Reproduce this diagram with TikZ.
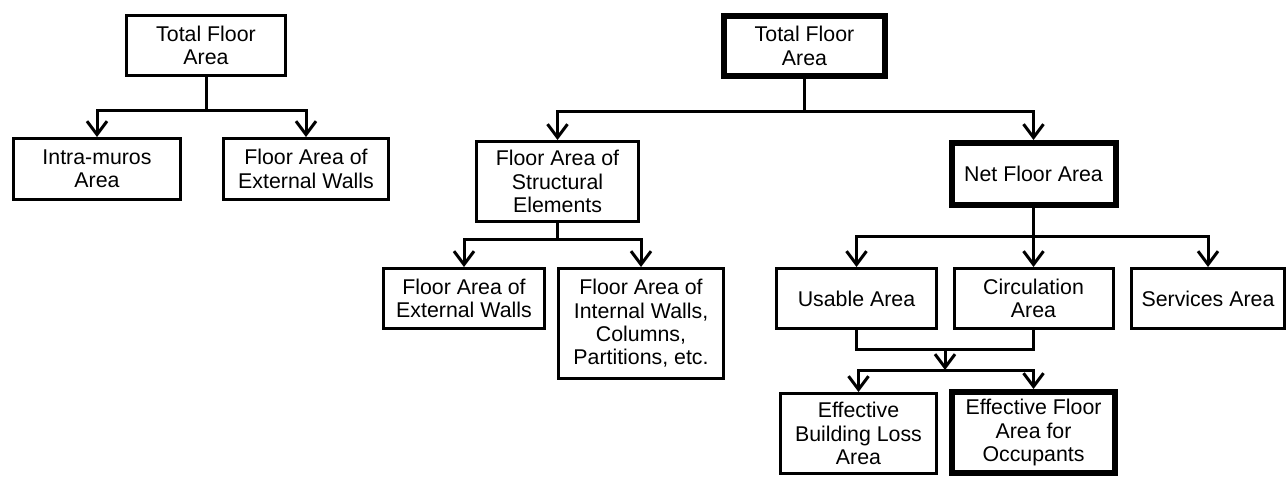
\documentclass[tikz,border=0pt]{standalone}
\usepackage{fontspec}
\setmainfont{Liberation Sans}
\usetikzlibrary{arrows.meta}

\begin{document}
\begin{tikzpicture}[x=0.75pt,y=0.75pt,yscale=-1,xscale=1,
  box/.style={draw, line width=2.25pt, inner sep=0pt, align=center, font=\fontsize{16}{17.5}\selectfont},
  heavy/.style={box, line width=4.5pt},
  arr/.style={-{Straight Barb[length=10pt,width=15pt]}},
  line width=2.25pt]
\useasboundingbox (0,0) rectangle (1288,476); %set diagram size 1288 x 476

%Shape: Rectangle (left tree)
\node[box, minimum width=119.25pt, minimum height=45pt] (tfaL) at (206,45.5) {Total Floor\\Area};
\node[box, minimum width=125.25pt, minimum height=45.75pt] (imA) at (97,169) {Intra-muros\\Area};
\node[box, minimum width=123.75pt, minimum height=45.75pt] (extL) at (306,169) {Floor Area of\\External Walls};

%Shape: Rectangle (right tree)
\node[heavy, minimum width=120.75pt, minimum height=45pt] (tfaR) at (804.5,46) {Total Floor\\Area};
\node[box, minimum width=121.5pt, minimum height=60pt] (fase) at (557.5,181.5) {Floor Area of\\Structural\\Elements};
\node[heavy, minimum width=123pt, minimum height=46.5pt] (nfa) at (1033.5,174) {Net Floor Area};
\node[box, minimum width=120.75pt, minimum height=45pt] (extR) at (464,298.5) {Floor Area of\\External Walls};
\node[box, minimum width=123.75pt, minimum height=82.5pt] (intW) at (641,323.5) {Floor Area of\\Internal Walls,\\Columns,\\Partitions, etc.};
\node[box, minimum width=120pt, minimum height=45pt] (usa) at (856.5,298.5) {Usable Area};
\node[box, minimum width=119.25pt, minimum height=45pt] (circ) at (1033.5,298.5) {Circulation\\Area};
\node[box, minimum width=114.75pt, minimum height=45pt] (serv) at (1208,298.5) {Services Area};
\node[box, minimum width=117pt, minimum height=60pt] (ebla) at (858.5,433.5) {Effective\\Building Loss\\Area};
\node[heavy, minimum width=122.25pt, minimum height=60.75pt] (efao) at (1033.5,432.5) {Effective Floor\\Area for\\Occupants};

%Junctions
\coordinate (jL) at (206,110);
\coordinate (jR) at (804.5,111);
\coordinate (jS) at (557.5,239);
\coordinate (jN) at (1033.5,236);
\coordinate (jU) at (945,349);
\coordinate (jE) at (945,370);

%Straight Lines
\draw (tfaL) -- (jL);
\draw[arr] (jL) -| (imA);
\draw[arr] (jL) -| (extL);

\draw (tfaR) -- (jR);
\draw[arr] (jR) -| (fase);
\draw[arr] (jR) -| (nfa);

\draw (fase) -- (jS);
\draw[arr] (jS) -| (extR);
\draw[arr] (jS) -| (intW);

\draw (nfa) -- (jN);
\draw[arr] (jN) -| (usa);
\draw[arr] (jN) -- (circ);
\draw[arr] (jN) -| (serv);

\draw (usa.south) |- (circ.south |- jU) -- (circ.south);
\draw[arr] (jU) -- (jE);
\draw[arr] (jE) -| (ebla);
\draw[arr] (jE) -| (efao);
\end{tikzpicture}
\end{document}
